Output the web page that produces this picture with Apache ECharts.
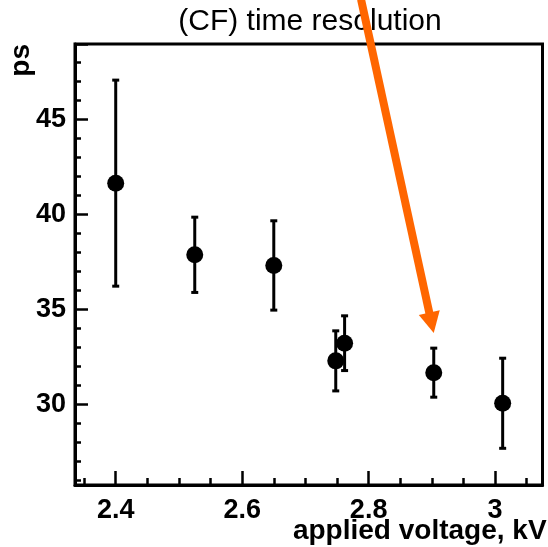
<!DOCTYPE html>
<html><head><meta charset="utf-8">
<script src="https://cdn.jsdelivr.net/npm/echarts@6/dist/echarts.min.js"></script>
<style>html,body{margin:0;padding:0;background:#fff}#c{width:548px;height:547px}</style>
</head><body><div id="c"></div>
<script>
// ---- data ----
const voltages = [2.4, 2.525, 2.65, 2.748, 2.762, 2.903, 3.012];
const resolutions = [41.63, 37.86, 37.30, 32.28, 33.21, 31.66, 30.05];
const errors = [5.42, 1.98, 2.35, 1.58, 1.44, 1.29, 2.37];
const titleText = '(CF) time resolution';
const xTitle = 'applied voltage, kV';
const yTitle = 'ps';
const xRange = [2.3356, 3.075];
const yRange = [25.75, 48.95];
const arrowStart = [2.788, 51.3];
const arrowTip = [2.903, 33.74];

const FONT = '"Liberation Sans", Arial, Helvetica, sans-serif';
const chart = echarts.init(document.getElementById('c'), null, {renderer: 'canvas'});

const option = {
  backgroundColor: '#fff',
  animation: false,
  title: {
    text: titleText, left: 305, top: 2, textAlign: 'center',
    textStyle: {fontFamily: FONT, fontSize: 30, fontWeight: 'normal', color: '#000'}
  },
  grid: {left: 75, right: 5.5, top: 44, bottom: 62, show: true, borderColor: '#000', borderWidth: 3,
    containLabel: false, outerBoundsMode: 'none'},
  xAxis: {
    type: 'value', min: xRange[0], max: xRange[1], splitNumber: 4, minInterval: 0.2, maxInterval: 0.2,
    name: xTitle, nameLocation: 'middle', nameGap: 32, nameMoveOverlap: false,
    nameTextStyle: {fontFamily: FONT, fontSize: 28, fontWeight: 'bold', color: '#000', padding: [0, 0, 0, 222]},
    axisLine: {show: true, lineStyle: {color: '#000', width: 3}},
    axisTick: {show: true, inside: true, length: 14, lineStyle: {color: '#000', width: 2.5}},
    minorTick: {show: true, splitNumber: 4, length: 7, lineStyle: {color: '#000', width: 2.5}},
    splitLine: {show: false},
    axisLabel: {showMinLabel: false, showMaxLabel: false, margin: 12, fontFamily: FONT, fontSize: 27, fontWeight: 'bold', color: '#000',
      formatter: v => String(Math.round(v * 10) / 10)}
  },
  yAxis: {
    type: 'value', min: yRange[0], max: yRange[1], splitNumber: 5, minInterval: 5, maxInterval: 5,
    name: yTitle, nameLocation: 'end', nameGap: 0, nameRotate: 90, nameMoveOverlap: false,
    nameTextStyle: {fontFamily: FONT, fontSize: 28, fontWeight: 'bold', color: '#000', align: 'right', verticalAlign: 'bottom', padding: [0, 0, 40, 0]},
    axisLine: {show: true, lineStyle: {color: '#000', width: 3}},
    axisTick: {show: true, inside: true, length: 13, lineStyle: {color: '#000', width: 2.5}},
    minorTick: {show: true, splitNumber: 5, length: 6, lineStyle: {color: '#000', width: 2.5}},
    splitLine: {show: false},
    axisLabel: {showMinLabel: false, showMaxLabel: false, margin: 9, fontFamily: FONT, fontSize: 27, fontWeight: 'bold', color: '#000'}
  },
  series: [
    {
      type: 'custom', z: 2,
      data: voltages.map((v, i) => [v, resolutions[i] - errors[i], resolutions[i] + errors[i]]),
      encode: {x: 0, y: [1, 2]},
      renderItem: (params, api) => {
        const x = api.value(0);
        const lo = api.coord([x, api.value(1)]);
        const hi = api.coord([x, api.value(2)]);
        const cap = 3.5;
        const st = {stroke: '#000', lineWidth: 3};
        return {type: 'group', children: [
          {type: 'line', shape: {x1: lo[0], y1: lo[1], x2: hi[0], y2: hi[1]}, style: st},
          {type: 'line', shape: {x1: lo[0] - cap, y1: lo[1], x2: lo[0] + cap, y2: lo[1]}, style: st},
          {type: 'line', shape: {x1: hi[0] - cap, y1: hi[1], x2: hi[0] + cap, y2: hi[1]}, style: st}
        ]};
      }
    },
    {
      type: 'scatter', z: 3, symbol: 'circle', symbolSize: 17,
      itemStyle: {color: '#000', opacity: 1},
      data: voltages.map((v, i) => [v, resolutions[i]])
    }
  ]
};
chart.setOption(option);

// annotation arrow, positioned through the axes
const p0 = chart.convertToPixel({gridIndex: 0}, arrowStart);
const p1 = chart.convertToPixel({gridIndex: 0}, arrowTip);
const dx = p1[0] - p0[0], dy = p1[1] - p0[1];
const len = Math.hypot(dx, dy);
const ux = dx / len, uy = dy / len;
const headLen = 21, headHalf = 10.7;
const bx = p1[0] - ux * headLen, by = p1[1] - uy * headLen;
chart.setOption({
  graphic: [
    {type: 'line', z: 10, shape: {x1: p0[0], y1: p0[1], x2: bx + ux * 2, y2: by + uy * 2}, style: {stroke: '#ff6600', lineWidth: 8}},
    {type: 'polygon', z: 10, shape: {points: [[p1[0], p1[1]], [bx - uy * headHalf, by + ux * headHalf], [bx + uy * headHalf, by - ux * headHalf]]}, style: {fill: '#ff6600'}}
  ]
});
</script>
</body></html>
